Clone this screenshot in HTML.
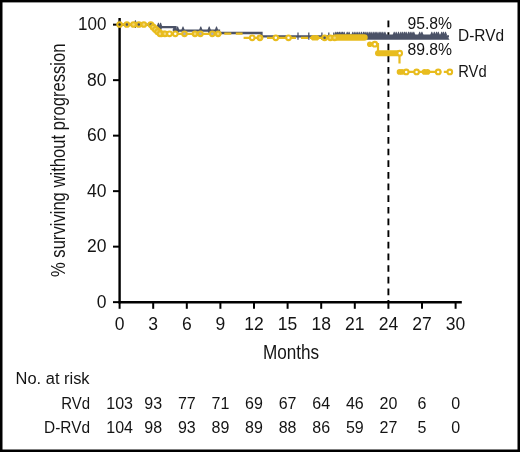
<!DOCTYPE html>
<html><head><meta charset="utf-8"><style>
html,body{margin:0;padding:0;background:#fff;}
svg{display:block;}
text{font-family:"Liberation Sans",sans-serif;fill:#141414;}
</style></head><body>
<svg width="520" height="452" viewBox="0 0 520 452">
<rect x="0" y="0" width="520" height="452" fill="#fff"/>
<line x1="119.6" y1="18.1" x2="119.6" y2="303.3" stroke="#000" stroke-width="2.4"/>
<line x1="118.39999999999999" y1="302.15" x2="461.8" y2="302.15" stroke="#000" stroke-width="2.45"/>
<line x1="113" y1="302.15" x2="119.6" y2="302.15" stroke="#000" stroke-width="2"/>
<line x1="113" y1="246.65" x2="119.6" y2="246.65" stroke="#000" stroke-width="2"/>
<line x1="113" y1="191.15" x2="119.6" y2="191.15" stroke="#000" stroke-width="2"/>
<line x1="113" y1="135.65" x2="119.6" y2="135.65" stroke="#000" stroke-width="2"/>
<line x1="113" y1="80.15" x2="119.6" y2="80.15" stroke="#000" stroke-width="2"/>
<line x1="113" y1="24.65" x2="119.6" y2="24.65" stroke="#000" stroke-width="2"/>
<line x1="119.60" y1="302.15" x2="119.60" y2="308.8" stroke="#000" stroke-width="2"/>
<line x1="153.20" y1="302.15" x2="153.20" y2="308.8" stroke="#000" stroke-width="2"/>
<line x1="186.80" y1="302.15" x2="186.80" y2="308.8" stroke="#000" stroke-width="2"/>
<line x1="220.40" y1="302.15" x2="220.40" y2="308.8" stroke="#000" stroke-width="2"/>
<line x1="254.00" y1="302.15" x2="254.00" y2="308.8" stroke="#000" stroke-width="2"/>
<line x1="287.60" y1="302.15" x2="287.60" y2="308.8" stroke="#000" stroke-width="2"/>
<line x1="321.20" y1="302.15" x2="321.20" y2="308.8" stroke="#000" stroke-width="2"/>
<line x1="354.80" y1="302.15" x2="354.80" y2="308.8" stroke="#000" stroke-width="2"/>
<line x1="388.40" y1="302.15" x2="388.40" y2="308.8" stroke="#000" stroke-width="2"/>
<line x1="422.00" y1="302.15" x2="422.00" y2="308.8" stroke="#000" stroke-width="2"/>
<line x1="455.60" y1="302.15" x2="455.60" y2="308.8" stroke="#000" stroke-width="2"/>
<line x1="388.40" y1="20.5" x2="388.40" y2="302" stroke="#000" stroke-width="1.9" stroke-dasharray="6.7 4.95"/>
<path d="M119.75,24.6 H152.5 V27.1 H175.5 V30.7 H219 V33.0 H261.5 V36.4 H449" fill="none" stroke="#4b5267" stroke-width="2.3"/>
<path d="M118.05,24.00 L119.35,20.30 L120.15,20.30 L121.45,24.00 L120.25,27.90 L119.25,27.90 Z" fill="#4b5267"/>
<path d="M133.70,24.00 L135.00,20.30 L135.80,20.30 L137.10,24.00 L135.90,27.90 L134.90,27.90 Z" fill="#4b5267"/>
<path d="M156.70,26.50 L158.00,22.80 L158.80,22.80 L160.10,26.50 L158.90,30.40 L157.90,30.40 Z" fill="#4b5267"/>
<path d="M158.90,26.50 L160.20,22.80 L161.00,22.80 L162.30,26.50 L161.10,30.40 L160.10,30.40 Z" fill="#4b5267"/>
<path d="M172.60,30.10 L173.90,26.40 L174.70,26.40 L176.00,30.10 L174.80,34.00 L173.80,34.00 Z" fill="#4b5267"/>
<path d="M175.90,30.10 L177.20,26.40 L178.00,26.40 L179.30,30.10 L178.10,34.00 L177.10,34.00 Z" fill="#4b5267"/>
<path d="M181.30,30.10 L182.60,26.40 L183.40,26.40 L184.70,30.10 L183.50,34.00 L182.50,34.00 Z" fill="#4b5267"/>
<path d="M199.10,30.10 L200.40,26.40 L201.20,26.40 L202.50,30.10 L201.30,34.00 L200.30,34.00 Z" fill="#4b5267"/>
<path d="M207.50,30.10 L208.80,26.40 L209.60,26.40 L210.90,30.10 L209.70,34.00 L208.70,34.00 Z" fill="#4b5267"/>
<path d="M214.80,30.10 L216.10,26.40 L216.90,26.40 L218.20,30.10 L217.00,34.00 L216.00,34.00 Z" fill="#4b5267"/>
<line x1="298" y1="32.4" x2="298" y2="39.8" stroke="#4b5267" stroke-width="1.3"/>
<line x1="308.8" y1="32.4" x2="308.8" y2="39.8" stroke="#4b5267" stroke-width="1.3"/>
<line x1="321.9" y1="32.4" x2="321.9" y2="39.8" stroke="#4b5267" stroke-width="1.3"/>
<line x1="328.8" y1="32.4" x2="328.8" y2="39.8" stroke="#4b5267" stroke-width="1.3"/>
<line x1="333.8" y1="32.4" x2="333.8" y2="39.8" stroke="#4b5267" stroke-width="1.3"/>
<line x1="337" y1="32.4" x2="337" y2="39.8" stroke="#4b5267" stroke-width="1.3"/>
<line x1="338.8" y1="32.4" x2="338.8" y2="39.8" stroke="#4b5267" stroke-width="1.3"/>
<path d="M336,34.6 H445.9 L449.6,39.7 H340 Z" fill="#4b5267"/>
<path d="M334.20,35 L335.45,31.8 L336.15,31.8 L337.40,35 Z" fill="#4b5267"/>
<path d="M336.10,35 L337.35,31.8 L338.05,31.8 L339.30,35 Z" fill="#4b5267"/>
<path d="M337.90,35 L339.15,31.8 L339.85,31.8 L341.10,35 Z" fill="#4b5267"/>
<path d="M339.50,35 L340.75,31.8 L341.45,31.8 L342.70,35 Z" fill="#4b5267"/>
<path d="M341.00,35 L342.25,31.8 L342.95,31.8 L344.20,35 Z" fill="#4b5267"/>
<path d="M342.60,35 L343.85,31.8 L344.55,31.8 L345.80,35 Z" fill="#4b5267"/>
<path d="M345.60,35 L346.85,31.8 L347.55,31.8 L348.80,35 Z" fill="#4b5267"/>
<path d="M347.50,35 L348.75,31.8 L349.45,31.8 L350.70,35 Z" fill="#4b5267"/>
<path d="M351.20,35 L352.45,31.8 L353.15,31.8 L354.40,35 Z" fill="#4b5267"/>
<path d="M353.30,35 L354.55,31.8 L355.25,31.8 L356.50,35 Z" fill="#4b5267"/>
<path d="M355.50,35 L356.75,31.8 L357.45,31.8 L358.70,35 Z" fill="#4b5267"/>
<path d="M357.60,35 L358.85,31.8 L359.55,31.8 L360.80,35 Z" fill="#4b5267"/>
<path d="M359.80,35 L361.05,31.8 L361.75,31.8 L363.00,35 Z" fill="#4b5267"/>
<path d="M361.90,35 L363.15,31.8 L363.85,31.8 L365.10,35 Z" fill="#4b5267"/>
<path d="M363.50,35 L364.75,31.8 L365.45,31.8 L366.70,35 Z" fill="#4b5267"/>
<path d="M365.50,35 L366.75,31.8 L367.45,31.8 L368.70,35 Z" fill="#4b5267"/>
<path d="M367.60,35 L368.85,31.8 L369.55,31.8 L370.80,35 Z" fill="#4b5267"/>
<path d="M369.50,35 L370.75,31.8 L371.45,31.8 L372.70,35 Z" fill="#4b5267"/>
<path d="M371.60,35 L372.85,31.8 L373.55,31.8 L374.80,35 Z" fill="#4b5267"/>
<path d="M373.50,35 L374.75,31.8 L375.45,31.8 L376.70,35 Z" fill="#4b5267"/>
<path d="M375.30,35 L376.55,31.8 L377.25,31.8 L378.50,35 Z" fill="#4b5267"/>
<path d="M377.50,35 L378.75,31.8 L379.45,31.8 L380.70,35 Z" fill="#4b5267"/>
<path d="M379.30,35 L380.55,31.8 L381.25,31.8 L382.50,35 Z" fill="#4b5267"/>
<path d="M381.20,35 L382.45,31.8 L383.15,31.8 L384.40,35 Z" fill="#4b5267"/>
<path d="M383.30,35 L384.55,31.8 L385.25,31.8 L386.50,35 Z" fill="#4b5267"/>
<path d="M392.60,35 L393.85,31.8 L394.55,31.8 L395.80,35 Z" fill="#4b5267"/>
<path d="M394.60,35 L395.85,31.8 L396.55,31.8 L397.80,35 Z" fill="#4b5267"/>
<path d="M396.90,35 L398.15,31.8 L398.85,31.8 L400.10,35 Z" fill="#4b5267"/>
<path d="M399.20,35 L400.45,31.8 L401.15,31.8 L402.40,35 Z" fill="#4b5267"/>
<path d="M401.10,35 L402.35,31.8 L403.05,31.8 L404.30,35 Z" fill="#4b5267"/>
<path d="M403.00,35 L404.25,31.8 L404.95,31.8 L406.20,35 Z" fill="#4b5267"/>
<path d="M404.60,35 L405.85,31.8 L406.55,31.8 L407.80,35 Z" fill="#4b5267"/>
<path d="M406.90,35 L408.15,31.8 L408.85,31.8 L410.10,35 Z" fill="#4b5267"/>
<path d="M408.60,35 L409.85,31.8 L410.55,31.8 L411.80,35 Z" fill="#4b5267"/>
<path d="M410.40,35 L411.65,31.8 L412.35,31.8 L413.60,35 Z" fill="#4b5267"/>
<path d="M412.20,35 L413.45,31.8 L414.15,31.8 L415.40,35 Z" fill="#4b5267"/>
<path d="M418.10,35 L419.35,31.8 L420.05,31.8 L421.30,35 Z" fill="#4b5267"/>
<path d="M420.30,35 L421.55,31.8 L422.25,31.8 L423.50,35 Z" fill="#4b5267"/>
<path d="M430.20,35 L431.45,31.8 L432.15,31.8 L433.40,35 Z" fill="#4b5267"/>
<path d="M432.70,35 L433.95,31.8 L434.65,31.8 L435.90,35 Z" fill="#4b5267"/>
<path d="M434.90,35 L436.15,31.8 L436.85,31.8 L438.10,35 Z" fill="#4b5267"/>
<path d="M436.70,35 L437.95,31.8 L438.65,31.8 L439.90,35 Z" fill="#4b5267"/>
<path d="M440.10,35 L441.35,31.8 L442.05,31.8 L443.30,35 Z" fill="#4b5267"/>
<path d="M441.80,35 L443.05,31.8 L443.75,31.8 L445.00,35 Z" fill="#4b5267"/>
<path d="M443.90,35 L445.15,31.8 L445.85,31.8 L447.10,35 Z" fill="#4b5267"/>
<path d="M119.75,24.5 H151 V27.2 H153.2 V29.6 H155.4 V31.8 H157.6 V33.8 H221.5 M224.3,33.7 H231.3 M235.8,33.7 H242.6 M243.6,37.8 H263.2 M267,37.8 H296 M301,37.8 H308 M310,37.8 H365 M368,44.2 H378 V53.2 H399.5 V63.5" fill="none" stroke="#e8bc1e" stroke-width="2.2"/>
<path d="M397,71.9 H441.4 M443.8,71.9 H450" fill="none" stroke="#e8bc1e" stroke-width="2.2"/>
<line x1="152" y1="25.6" x2="161.5" y2="33.9" stroke="#e8bc1e" stroke-width="6.4" stroke-linecap="round"/>
<line x1="161.5" y1="33.9" x2="165" y2="33.9" stroke="#e8bc1e" stroke-width="6.4" stroke-linecap="round"/>
<line x1="337" y1="37.5" x2="364.4" y2="37.5" stroke="#e8bc1e" stroke-width="6.6" stroke-linecap="round"/>
<line x1="378" y1="53.2" x2="397.5" y2="53.2" stroke="#e8bc1e" stroke-width="6" stroke-linecap="round"/>
<circle cx="152.2" cy="26.2" r="2.8" fill="#e8bc1e"/>
<circle cx="154.3" cy="28.4" r="2.8" fill="#e8bc1e"/>
<circle cx="156.5" cy="30.7" r="2.8" fill="#e8bc1e"/>
<circle cx="158.7" cy="32.8" r="2.8" fill="#e8bc1e"/>
<circle cx="161.5" cy="33.8" r="2.8" fill="#e8bc1e"/>
<circle cx="313.5" cy="37.8" r="2.8" fill="#e8bc1e"/>
<circle cx="316.5" cy="37.8" r="2.8" fill="#e8bc1e"/>
<circle cx="369.8" cy="44.2" r="2.8" fill="#e8bc1e"/>
<circle cx="399.5" cy="71.9" r="2.8" fill="#e8bc1e"/>
<circle cx="402" cy="71.9" r="2.8" fill="#e8bc1e"/>
<circle cx="424.5" cy="71.9" r="2.8" fill="#e8bc1e"/>
<circle cx="427.5" cy="71.9" r="2.8" fill="#e8bc1e"/>
<circle cx="119.6" cy="24.5" r="2.3" fill="#262833" stroke="#e8bc1e" stroke-width="2.1"/>
<circle cx="126.9" cy="24.5" r="2.3" fill="#4b5267" stroke="#e8bc1e" stroke-width="2.1"/>
<circle cx="133.5" cy="24.5" r="2.3" fill="#f2d77a" stroke="#e8bc1e" stroke-width="2.1"/>
<circle cx="138.8" cy="24.5" r="2.3" fill="#4b5267" stroke="#e8bc1e" stroke-width="2.1"/>
<circle cx="143.8" cy="24.5" r="2.3" fill="#f2d77a" stroke="#e8bc1e" stroke-width="2.1"/>
<circle cx="150.8" cy="24.5" r="2.3" fill="#4b5267" stroke="#e8bc1e" stroke-width="2.1"/>
<circle cx="153" cy="27.2" r="2.3" fill="#f2d77a" stroke="#e8bc1e" stroke-width="2.1"/>
<circle cx="155.3" cy="29.6" r="2.3" fill="#f2d77a" stroke="#e8bc1e" stroke-width="2.1"/>
<circle cx="157.6" cy="31.8" r="2.3" fill="#f2d77a" stroke="#e8bc1e" stroke-width="2.1"/>
<circle cx="160" cy="33.8" r="2.3" fill="#f2d77a" stroke="#e8bc1e" stroke-width="2.1"/>
<circle cx="164.9" cy="33.8" r="2.3" fill="#f2d77a" stroke="#e8bc1e" stroke-width="2.1"/>
<circle cx="169.5" cy="33.8" r="2.3" fill="#fff" stroke="#e8bc1e" stroke-width="2.1"/>
<circle cx="175.3" cy="33.8" r="2.3" fill="#fff" stroke="#e8bc1e" stroke-width="2.1"/>
<circle cx="184.5" cy="33.8" r="2.3" fill="#a9adbd" stroke="#e8bc1e" stroke-width="2.1"/>
<circle cx="195" cy="33.8" r="2.3" fill="#f2d77a" stroke="#e8bc1e" stroke-width="2.1"/>
<circle cx="200.4" cy="33.8" r="2.3" fill="#a9adbd" stroke="#e8bc1e" stroke-width="2.1"/>
<circle cx="212.3" cy="33.8" r="2.3" fill="#a9adbd" stroke="#e8bc1e" stroke-width="2.1"/>
<circle cx="218.1" cy="33.8" r="2.3" fill="#f2d77a" stroke="#e8bc1e" stroke-width="2.1"/>
<circle cx="252.2" cy="37.8" r="2.3" fill="#fff" stroke="#e8bc1e" stroke-width="2.1"/>
<circle cx="259.9" cy="37.8" r="2.3" fill="#f2d77a" stroke="#e8bc1e" stroke-width="2.1"/>
<circle cx="275.8" cy="37.8" r="2.3" fill="#fff" stroke="#e8bc1e" stroke-width="2.1"/>
<circle cx="288.5" cy="37.8" r="2.3" fill="#fff" stroke="#e8bc1e" stroke-width="2.1"/>
<circle cx="324.6" cy="37.8" r="2.3" fill="#4b5267" stroke="#e8bc1e" stroke-width="2.1"/>
<circle cx="330.4" cy="37.8" r="2.3" fill="#f2d77a" stroke="#e8bc1e" stroke-width="2.1"/>
<circle cx="334.6" cy="37.8" r="2.3" fill="#f2d77a" stroke="#e8bc1e" stroke-width="2.1"/>
<circle cx="374.8" cy="44.2" r="2.3" fill="#fff" stroke="#e8bc1e" stroke-width="2.1"/>
<circle cx="399.7" cy="53.2" r="2.3" fill="#fff" stroke="#e8bc1e" stroke-width="2.1"/>
<circle cx="406.2" cy="71.9" r="2.3" fill="#fff" stroke="#e8bc1e" stroke-width="2.1"/>
<circle cx="416.6" cy="71.9" r="2.3" fill="#fff" stroke="#e8bc1e" stroke-width="2.1"/>
<circle cx="438.2" cy="71.9" r="2.3" fill="#fff" stroke="#e8bc1e" stroke-width="2.1"/>
<circle cx="449.8" cy="71.9" r="2.3" fill="#fff" stroke="#e8bc1e" stroke-width="2.1"/>
<g style="will-change:transform">
<text x="106.4" y="307.75" font-size="17.5" text-anchor="end" >0</text>
<text x="106.4" y="252.24999999999997" font-size="17.5" text-anchor="end" >20</text>
<text x="106.4" y="196.74999999999997" font-size="17.5" text-anchor="end" >40</text>
<text x="106.4" y="141.24999999999997" font-size="17.5" text-anchor="end" >60</text>
<text x="106.4" y="85.74999999999997" font-size="17.5" text-anchor="end" >80</text>
<text x="106.4" y="30.24999999999998" font-size="17.5" text-anchor="end" textLength="28.4" lengthAdjust="spacingAndGlyphs" >100</text>
<text x="119.6" y="329.7" font-size="17.5" text-anchor="middle" >0</text>
<text x="153.2" y="329.7" font-size="17.5" text-anchor="middle" >3</text>
<text x="186.8" y="329.7" font-size="17.5" text-anchor="middle" >6</text>
<text x="220.4" y="329.7" font-size="17.5" text-anchor="middle" >9</text>
<text x="254.0" y="329.7" font-size="17.5" text-anchor="middle" >12</text>
<text x="287.6" y="329.7" font-size="17.5" text-anchor="middle" >15</text>
<text x="321.2" y="329.7" font-size="17.5" text-anchor="middle" >18</text>
<text x="354.8" y="329.7" font-size="17.5" text-anchor="middle" >21</text>
<text x="388.4" y="329.7" font-size="17.5" text-anchor="middle" >24</text>
<text x="422.0" y="329.7" font-size="17.5" text-anchor="middle" >27</text>
<text x="455.6" y="329.7" font-size="17.5" text-anchor="middle" >30</text>
<text x="291" y="358.8" font-size="20.8" text-anchor="middle" textLength="56.2" lengthAdjust="spacingAndGlyphs" >Months</text>
<text transform="translate(65.4,160.3) rotate(-90)" font-size="20.5" text-anchor="middle" textLength="233.5" lengthAdjust="spacingAndGlyphs">% surviving without progression</text>
<text x="407.5" y="28.6" font-size="16" text-anchor="start" textLength="44.6" lengthAdjust="spacingAndGlyphs" >95.8%</text>
<text x="407.5" y="54.8" font-size="16" text-anchor="start" textLength="44.6" lengthAdjust="spacingAndGlyphs" >89.8%</text>
<text x="458" y="40.9" font-size="16" text-anchor="start" textLength="46" lengthAdjust="spacingAndGlyphs" >D-RVd</text>
<text x="458.2" y="76.5" font-size="16" text-anchor="start" textLength="28.4" lengthAdjust="spacingAndGlyphs" >RVd</text>
<text x="15.6" y="384.3" font-size="16" text-anchor="start" textLength="74" lengthAdjust="spacingAndGlyphs" >No. at risk</text>
<text x="90" y="408.8" font-size="16" text-anchor="end" textLength="28.8" lengthAdjust="spacingAndGlyphs" >RVd</text>
<text x="90" y="433" font-size="16" text-anchor="end" textLength="46" lengthAdjust="spacingAndGlyphs" >D-RVd</text>
<text x="119.6" y="408.8" font-size="16" text-anchor="middle" >103</text>
<text x="119.6" y="432.5" font-size="16" text-anchor="middle" >104</text>
<text x="153.2" y="408.8" font-size="16" text-anchor="middle" >93</text>
<text x="153.2" y="432.5" font-size="16" text-anchor="middle" >98</text>
<text x="186.8" y="408.8" font-size="16" text-anchor="middle" >77</text>
<text x="186.8" y="432.5" font-size="16" text-anchor="middle" >93</text>
<text x="220.4" y="408.8" font-size="16" text-anchor="middle" >71</text>
<text x="220.4" y="432.5" font-size="16" text-anchor="middle" >89</text>
<text x="254.0" y="408.8" font-size="16" text-anchor="middle" >69</text>
<text x="254.0" y="432.5" font-size="16" text-anchor="middle" >89</text>
<text x="287.6" y="408.8" font-size="16" text-anchor="middle" >67</text>
<text x="287.6" y="432.5" font-size="16" text-anchor="middle" >88</text>
<text x="321.2" y="408.8" font-size="16" text-anchor="middle" >64</text>
<text x="321.2" y="432.5" font-size="16" text-anchor="middle" >86</text>
<text x="354.8" y="408.8" font-size="16" text-anchor="middle" >46</text>
<text x="354.8" y="432.5" font-size="16" text-anchor="middle" >59</text>
<text x="388.4" y="408.8" font-size="16" text-anchor="middle" >20</text>
<text x="388.4" y="432.5" font-size="16" text-anchor="middle" >27</text>
<text x="422.0" y="408.8" font-size="16" text-anchor="middle" >6</text>
<text x="422.0" y="432.5" font-size="16" text-anchor="middle" >5</text>
<text x="455.6" y="408.8" font-size="16" text-anchor="middle" >0</text>
<text x="455.6" y="432.5" font-size="16" text-anchor="middle" >0</text>
</g>
<rect x="0" y="0" width="2.5" height="452" fill="#000"/><rect x="517.5" y="0" width="2.5" height="452" fill="#000"/>
<rect x="0" y="0" width="520" height="2.4" fill="#000"/><rect x="0" y="449.5" width="520" height="2.5" fill="#000"/>
</svg>
</body></html>
